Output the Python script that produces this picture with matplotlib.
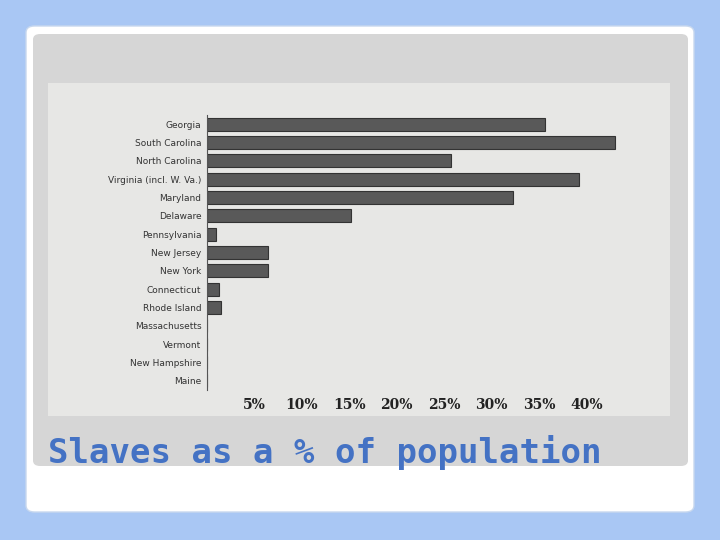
import matplotlib
matplotlib.use("Agg")
import matplotlib.pyplot as plt
from matplotlib.patches import FancyBboxPatch, Rectangle

states = ["Georgia", "South Carolina", "North Carolina", "Virginia (incl. W. Va.)",
          "Maryland", "Delaware", "Pennsylvania", "New Jersey", "New York",
          "Connecticut", "Rhode Island", "Massachusetts", "Vermont",
          "New Hampshire", "Maine"]
pct = [35.6, 43.0, 25.7, 39.2, 32.3, 15.2, 1.0, 6.4, 6.4, 1.3, 1.5, 0, 0, 0, 0]
xticks = [5, 10, 15, 20, 25, 30, 35, 40]

W, H = 720, 540
fig = plt.figure(figsize=(7.2, 5.4), dpi=100)
fig.patch.set_facecolor("#a9c7f4")

def px_rect(x0, y0, x1, y1, **kw):
    return FancyBboxPatch((x0 / W, 1 - y1 / H), (x1 - x0) / W, (y1 - y0) / H,
                          transform=fig.transFigure, zorder=-3, **kw)

fig.patches.append(px_rect(26, 26, 694, 512, boxstyle="round,pad=0,rounding_size=0.012",
                           facecolor="white", edgecolor="#c8d8ee", lw=1))
fig.patches.append(px_rect(33, 34, 688, 466, boxstyle="round,pad=0,rounding_size=0.01",
                           facecolor="#d6d6d6", edgecolor="none"))
fig.patches.append(Rectangle((48 / W, 1 - 416 / H), (670 - 48) / W, (416 - 83) / H,
                             transform=fig.transFigure, facecolor="#e7e7e5",
                             edgecolor="none", zorder=-2))

ax = fig.add_axes([207 / W, 1 - 390 / H, (634 - 207) / W, (390 - 115) / H])
ax.set_zorder(5)
ax.set_facecolor("none")
y = range(len(states))
ax.barh(y, pct, height=0.7, color="#595959", edgecolor="#333333", lw=0.8)
ax.set_ylim(len(states) - 0.5, -0.5)
ax.set_xlim(0, 45)
ax.set_yticks(list(y))
ax.set_yticklabels(states, fontsize=6.5, color="#333333")
ax.set_xticks(xticks)
ax.set_xticklabels([f"{v}%" for v in xticks], family="DejaVu Serif",
                   fontweight="bold", fontsize=10, color="#222222")
ax.tick_params(length=0, pad=4)
ax.tick_params(axis="x", pad=6)
for s in ["top", "right", "bottom"]:
    ax.spines[s].set_visible(False)
ax.spines["left"].set_color("#555555")

fig.text(48 / W, 1 - 452 / H, "Slaves as a % of population", family="DejaVu Sans Mono",
         fontweight="bold", fontsize=24.5, color="#4472c4", va="center", zorder=6)

fig.savefig("out.png", dpi=100)
